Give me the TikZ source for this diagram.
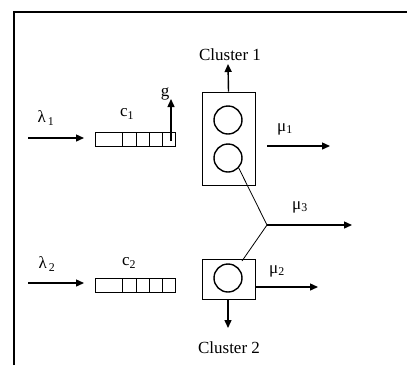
\documentclass[tikz,border=0pt]{standalone}
\usepackage{fontspec}
\setmainfont{Liberation Serif}
\usetikzlibrary{arrows.meta,calc}
\begin{document}
\begin{tikzpicture}[x=1pt,y=-1pt,
  every node/.style={font=\fontsize{17}{20}\selectfont, inner sep=0pt},
  flow/.style={line width=1.4pt,-{Triangle[length=8pt,width=7pt]}},
  thin line/.style={line width=0.8pt},
  queuebox/.style={draw,thin line,minimum width=80pt,minimum height=14pt},
  clusterbox/.style={draw,thin line,minimum width=53pt},
  server/.style={draw,circle,line width=1.4pt,minimum size=28pt}]
\useasboundingbox (0,0) rectangle (407,365);
% frame
\draw[line width=1.1pt] (14,365) -- (14,12) -- (407,12);

% arrival streams
\coordinate (a1s) at (28,138);  \coordinate (a1e) at (84,138);
\coordinate (a2s) at (28,283);  \coordinate (a2e) at (84,283);
\draw[flow] (a1s) -- (a1e);
\draw[flow] (a2s) -- (a2e);
\node (lam1) at (46,118) {λ\textsubscript{\,1}};
\node (lam2) at (47,264) {λ\textsubscript{\,2}};

% queues
\node[queuebox] (q1) at (135,139) {};
\node[queuebox] (q2) at (135,285) {};
\foreach \x in {122,136,149,162} {
  \draw[thin line] (\x,132) -- (\x,146);
  \draw[thin line] (\x,278) -- (\x,292);
}
\node (c1) at (127,114) {c\textsubscript{1}};
\node (c2) at (129,263) {c\textsubscript{2}};

% g output of queue 1
\coordinate (gs) at (171,141);
\coordinate (ge) at (171,99);
\draw[flow] (gs) -- (ge);
\node (g) at (165,94) {g};

% cluster 1
\node[clusterbox,minimum height=93pt] (k1) at (228.5,138.5) {};
\node[server] (s1) at (228,120) {};
\node[server] (s2) at (228,158) {};
\coordinate (k1up) at (228,64);
\draw[flow] (k1.north) -- (k1up);
\node (cl1) at (230,55) {Cluster 1};
\coordinate (m1s) at (267,146); \coordinate (m1e) at (330,146);
\draw[flow] (m1s) -- (m1e);
\node (mu1) at (285,129) {μ\textsubscript{1}};

% cluster 2
\node[clusterbox,minimum height=40pt] (k2) at (228.5,279) {};
\node[server] (s3) at (228,278) {};
\coordinate (k2dn) at (228,328);
\draw[flow] (k2.south -| k2dn) -- (k2dn);
\node (cl2) at (229,348) {Cluster 2};
\coordinate (m2e) at (318,287);
\draw[flow] (k2.east |- m2e) -- (m2e);
\node (mu2) at (277,271) {μ\textsubscript{2}};

% shared output
\coordinate (J) at (267,225);
\coordinate (k2top) at (242,261);
\coordinate (m3e) at (352,225);
\draw[thin line] (s2.-43) -- (J) -- (k2top);
\draw[flow] (J) -- (m3e);
\node (mu3) at (300,207) {μ\textsubscript{3}};
\end{tikzpicture}
\end{document}
